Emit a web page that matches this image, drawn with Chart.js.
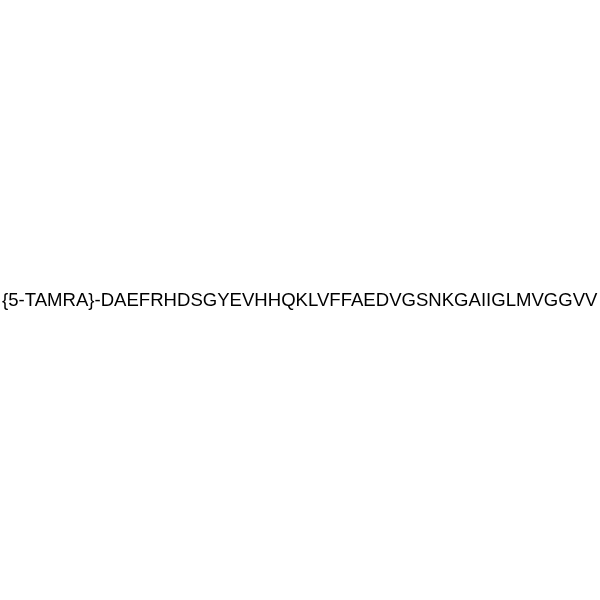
<!DOCTYPE html>
<html>
<head>
<meta charset="utf-8">
<script src="https://cdn.jsdelivr.net/npm/chart.js@4.4.0/dist/chart.umd.min.js"></script>
<style>
  html, body { margin: 0; padding: 0; background: #fff; }
  #wrap { width: 600px; height: 600px; }
</style>
</head>
<body>
<div id="wrap"><canvas id="seqChart" width="600" height="600"></canvas></div>
<script>
// label pieces
var modification = ['5-TAMRA'];
var residues = ['D','A','E','F','R','H','D','S','G','Y','E','V','H','H','Q','K','L','V','F','F',
                'A','E','D','V','G','S','N','K','G','A','I','I','G','L','M','V','G','G','V','V'];

var labelText = '{' + modification[0] + '}-' + residues.join('');

// draws the sequence label across the middle of the chart area
var sequenceLabel = {
    id: 'sequenceLabel',
    afterDraw: function(chart) {
        var c = chart.ctx;
        var area = chart.chartArea;
        c.save();
        var size = 17;
        c.font = size + 'px "Liberation Sans", Arial, sans-serif';
        var w = c.measureText(labelText).width;
        // shrink/grow to fill the width like the original
        size = size * 596 / w;
        c.font = size + 'px "Liberation Sans", Arial, sans-serif';
        c.fillStyle = '#000';
        c.textBaseline = 'alphabetic';
        c.textAlign = 'left';
        c.fillText(labelText, area.left + 2, 305.5);
        c.restore();
    }
};

var ctx = document.getElementById('seqChart').getContext('2d');
var seqChart = new Chart(ctx, {
    type: 'scatter',
    data: { datasets: [{ data: [] }] },
    options: {
        responsive: false,
        animation: false,
        layout: { padding: 0 },
        plugins: { legend: { display: false }, tooltip: { enabled: false } },
        scales: {
            x: { display: false, min: 0, max: 1 },
            y: { display: false, min: 0, max: 1 }
        }
    },
    plugins: [sequenceLabel]
});
</script>
</body>
</html>
